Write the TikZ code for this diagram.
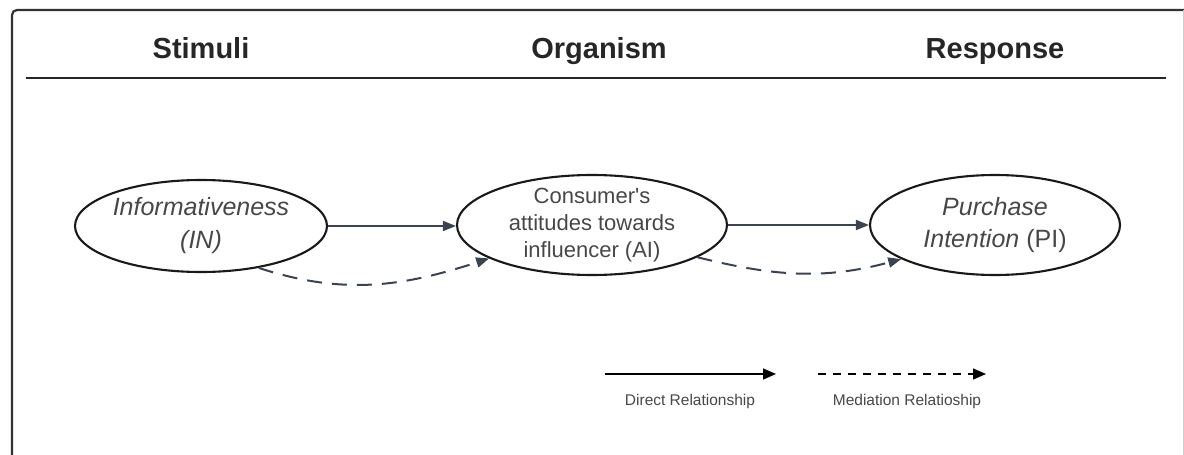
\documentclass[tikz,border=0pt]{standalone}
\usepackage{fontspec}
\setmainfont{Liberation Sans}
\usepackage{xcolor}
\usetikzlibrary{shapes.geometric,arrows.meta}
\definecolor{linegray}{HTML}{3B4351}
\definecolor{textgray}{HTML}{474747}

\begin{document}
\begin{tikzpicture}[x=1pt,y=-1pt,%
% common options for the headings:
head/.style = {anchor=base, font=\fontsize{29}{34}\selectfont\bfseries, text=black!85},
% common options for the ellipses:
ell/.style = {ellipse, draw=black!90, line width=2.1pt, inner sep=-8pt,
            align=center, text=textgray},
% common options for the connectors:
direct/.style = {draw=linegray, line width=1.7pt, -{Triangle[length=13pt,width=10pt]}},
mediate/.style = {direct, line width=2pt, dash pattern=on 15pt off 10pt},
% common options for the legend:
legend/.style = {anchor=base, font=\fontsize{15.5}{18}\selectfont, text=textgray},
legline/.style = {draw=black, line width=1.5pt, -{Triangle[length=13pt,width=11pt]}}]
\useasboundingbox (0,0) rectangle (1184,455);
\draw[line width=2.2pt, black!80, rounded corners=5pt] (12,455) -- (12,10) -- (1184,10);
\draw[line width=0.8pt, black!20] (1183,10) -- (1183,455);
\node[head] (stim) at (201,58) {Stimuli};
\node[head] (org) at (599,58) {Organism};
\node[head] (resp) at (995,58) {Response};
\draw[line width=2.2pt, black!85] (26,78) -- (1166,78);
\node[ell, minimum width=252pt, minimum height=92pt,
      font=\fontsize{25}{33}\selectfont\itshape] (IN) at (201,226) {Informativeness\\(IN)};
\node[ell, minimum width=270pt, minimum height=100pt,
      font=\fontsize{22}{27}\selectfont] (AI) at (592,225) {Consumer\textquotesingle s\\attitudes towards\\influencer (AI)};
\node[ell, minimum width=250pt, minimum height=100pt,
      font=\fontsize{25}{32}\selectfont] (PI) at (995,225) {\textit{Purchase}\\\textit{Intention} (PI)};
\draw[direct] (IN.east) -- (IN.east -| AI.west);
\draw[direct] (AI.east) -- (PI.west);
\draw[mediate] (IN.-36) to[out=-18,in=198] (AI.-162);
\draw[mediate] (AI.-17) to[out=-14,in=195] (PI.-160);
% legend
\coordinate (dirA) at (605,374);
\coordinate (dirB) at (776,374);
\coordinate (medA) at (818,374);
\coordinate (medB) at (986,374);
\draw[legline] (dirA) -- (dirB);
\draw[legline, dash pattern=on 8pt off 7pt] (medA) -- (medB);
\node[legend] (dirlab) at (690,405) {Direct Relationship};
\node[legend] (medlab) at (907,405) {Mediation Relatioship};
\end{tikzpicture}
\end{document}
